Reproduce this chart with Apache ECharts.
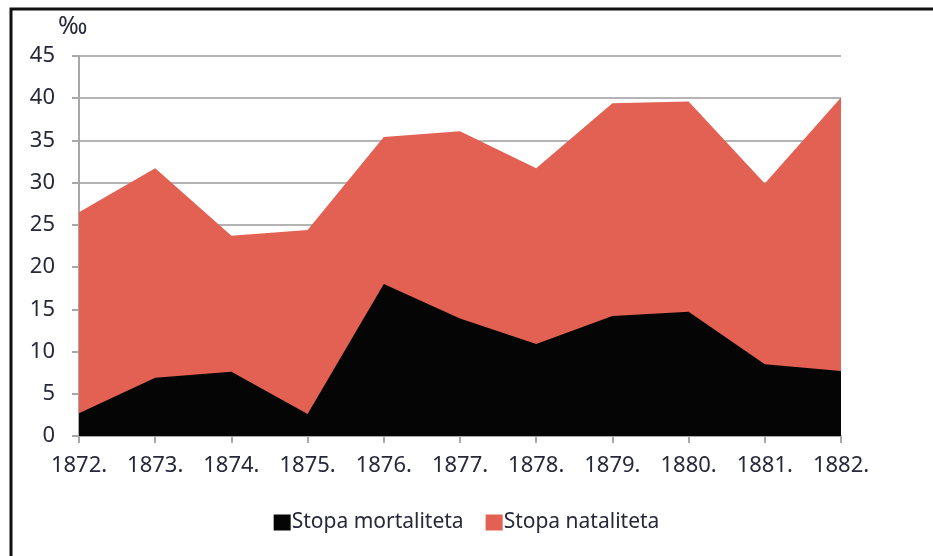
<!DOCTYPE html>
<html>
<head>
<meta charset="utf-8">
<script src="https://cdn.jsdelivr.net/npm/echarts@6/dist/echarts.min.js"></script>
<style>
html,body{margin:0;padding:0;background:#fff;}
#c{width:933px;height:556px;}
</style>
</head>
<body>
<div id="c"></div>
<script>
const categories = ['1872.','1873.','1874.','1875.','1876.','1877.','1878.','1879.','1880.','1881.','1882.'];
const mortality = [2.7, 6.9, 7.6, 2.6, 18.0, 13.9, 10.9, 14.2, 14.7, 8.5, 7.7];
const natality = [26.5, 31.7, 23.7, 24.4, 35.4, 36.1, 31.7, 39.4, 39.6, 29.9, 40.1];
const yTicks = {min: 0, max: 45, interval: 5};
const unitLabel = '‰';
const seriesNames = ['Stopa mortaliteta', 'Stopa nataliteta'];

const FONT = 'Noto Sans';
const TXT = '#27283a';
const chart = echarts.init(document.getElementById('c'), null, {renderer: 'canvas'});
chart.setOption({
  animation: false,
  backgroundColor: '#fff',
  graphic: [
    {type: 'rect', shape: {x: 11, y: 9, width: 960, height: 600},
     style: {fill: 'none', stroke: '#111', lineWidth: 3}, z: 100},
    {type: 'text', left: 58, top: 14,
     style: {text: unitLabel, font: '25px "Noto Sans"', fill: TXT}}
  ],
  grid: {left: 79, right: 92, top: 56, bottom: 120, containLabel: false},
  legend: {
    bottom: 18, left: 'center',
    itemWidth: 17, itemHeight: 16, itemGap: 22,
    icon: 'rect',
    textStyle: {fontFamily: FONT, fontSize: 21, color: TXT, padding: [0,0,0,-4]},
    data: seriesNames
  },
  xAxis: {
    type: 'category', data: categories, boundaryGap: false,
    axisLine: {lineStyle: {color: '#a8a8a8', width: 2}},
    axisTick: {show: true, length: 7, lineStyle: {color: '#a8a8a8', width: 2}},
    axisLabel: {fontFamily: FONT, fontSize: 22, color: TXT, margin: 19},
    splitLine: {show: false}
  },
  yAxis: {
    type: 'value', min: yTicks.min, max: yTicks.max, interval: yTicks.interval,
    axisLine: {show: true, lineStyle: {color: '#a8a8a8', width: 2}},
    axisTick: {show: true, length: 7, lineStyle: {color: '#a8a8a8', width: 2}},
    axisLabel: {fontFamily: FONT, fontSize: 22, color: TXT, margin: 24},
    splitLine: {lineStyle: {color: '#b4b4b4', width: 2}}
  },
  series: [
    {name: seriesNames[1], type: 'line', data: natality, symbol: 'none',
     lineStyle: {width: 0}, itemStyle: {color: '#e26152'},
     areaStyle: {color: '#e26152', opacity: 1}, z: 2},
    {name: seriesNames[0], type: 'line', data: mortality, symbol: 'none',
     lineStyle: {width: 0}, itemStyle: {color: '#050505'},
     areaStyle: {color: '#050505', opacity: 1}, z: 3}
  ]
});
</script>
</body>
</html>
